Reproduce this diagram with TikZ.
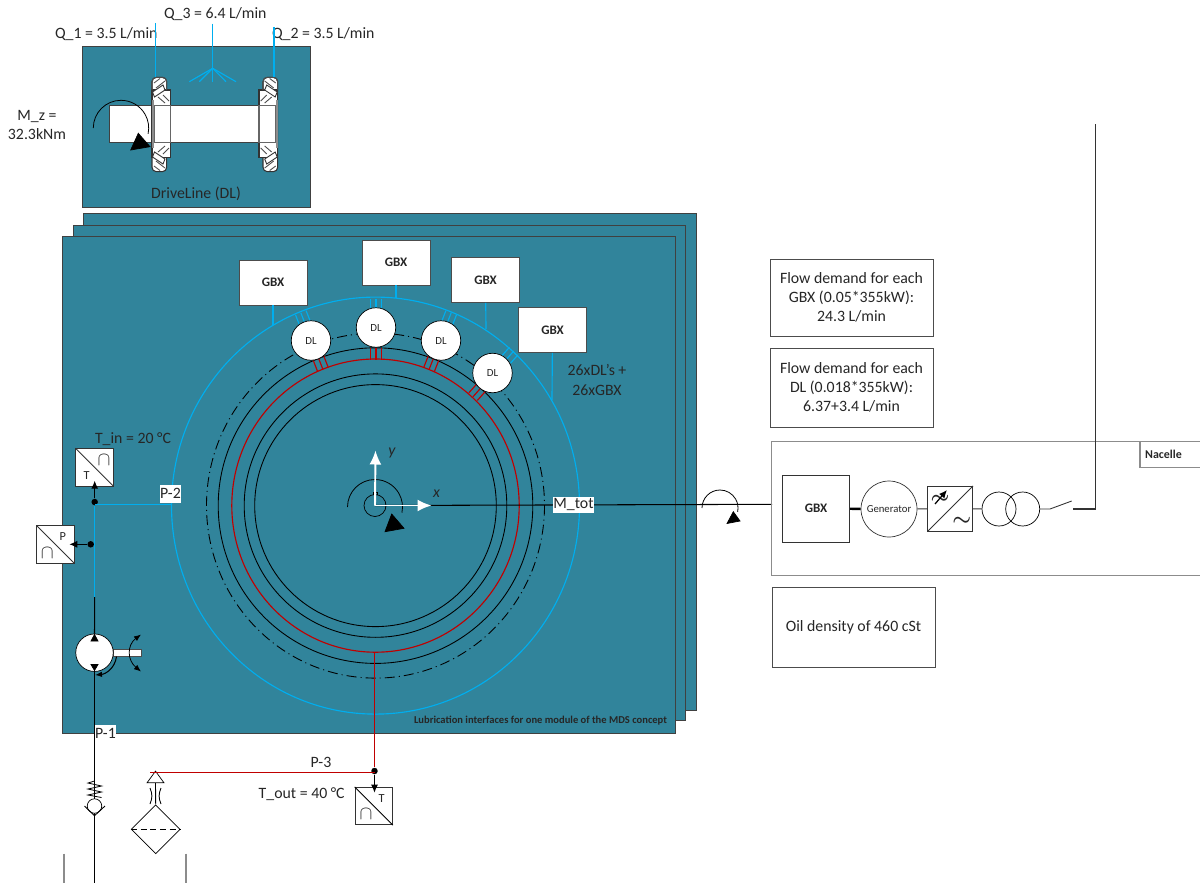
\documentclass[tikz,border=0pt]{standalone}
\usepackage{fontspec}
\setmainfont{Carlito}
\usepackage{amsmath}
\usetikzlibrary{arrows.meta,calc,shapes.geometric}
\definecolor{panelteal}{HTML}{31849B}
\definecolor{oilblue}{HTML}{00AEEF}
\definecolor{oilred}{HTML}{C00000}
\definecolor{edgegrey}{HTML}{8C8C8C}
\begin{document}
\begin{tikzpicture}[x=0.02cm,y=-0.02cm,
  every node/.style={font=\fontsize{9}{10.9}\selectfont, text=black!85},
  panel/.style={draw=black!75, line width=0.55pt, fill=panelteal},
  gbxbox/.style={draw=black!70, fill=white, minimum width=1.36cm, minimum height=0.9cm, inner sep=0pt, font=\fontsize{7.4}{8}\selectfont\bfseries},
  dlnode/.style={draw=black, circle, fill=white, minimum size=0.79cm, inner sep=0pt, font=\fontsize{6.2}{7}\selectfont},
  notebox/.style={draw=black!70, fill=white, align=center, inner sep=0pt},
  sensorbox/.style={draw=black!80, fill=white, minimum size=0.75cm, inner sep=0pt},
  tagbox/.style={fill=white, inner sep=1pt},
  smalltext/.style={font=\fontsize{7}{8}\selectfont, inner sep=0pt},
  dotnode/.style={circle, fill=black, minimum size=0.13cm, inner sep=0pt},
  blueline/.style={draw=oilblue, line width=0.65pt},
  redline/.style={draw=oilred, line width=0.65pt},
  ringline/.style={draw=black, line width=0.5pt},
  arrow/.style={-{Latex[length=1.6mm,width=1.4mm]}, line width=0.6pt},
  whitearrow/.style={-{Latex[length=2.8mm,width=2.4mm]}, draw=white, line width=1.1pt},
  momentarc/.style={draw=black, line width=0.45pt}
]
\useasboundingbox (0,0) rectangle (1200,883);

% panels
\draw[panel] (82,46) rectangle (310,207);
\draw[panel] (83,213) rectangle (696,710);
\draw[panel] (73,225) rectangle (685,720);
\draw[panel] (62,236) rectangle (675,733);

% rings
\coordinate (hub) at (375.5,505.6);
\draw[blueline] (hub) ellipse [x radius=204, y radius=208.5];
\draw[ringline, dash pattern=on 5.7pt off 2.3pt on 0.6pt off 2.3pt] (hub) ellipse [x radius=169, y radius=172.5];
\draw[ringline] (hub) ellipse [x radius=157.3, y radius=157.8];
\draw[redline] (hub) ellipse [x radius=143.7, y radius=146.6];
\draw[ringline] (hub) ellipse [x radius=131.3, y radius=131.7];
\draw[ringline] (hub) ellipse [x radius=120.8, y radius=121];
\foreach \ang in {21.3,0,-21.3,-41.7} {
  \begin{scope}[shift={(376,505.6)}, rotate=\ang]
    \foreach \off in {-5.7,0,5.7} {
      \draw[redline] (\off,-146) -- (\off,-158);
      \draw[blueline] (\off,-196) -- (\off,-207);
    }
  \end{scope}
}

% gearboxes and drivelines
\coordinate (ringA) at (273,325);
\coordinate (ringB) at (396,298);
\coordinate (ringC) at (486,329);
\coordinate (ringD) at (552,400);
\node[gbxbox] (gbxA) at (273,282.5) {GBX};
\node[gbxbox] (gbxB) at (396,262.5) {GBX};
\node[gbxbox] (gbxC) at (485.5,280) {GBX};
\node[gbxbox] (gbxD) at (552.5,330) {GBX};
\draw[blueline] (gbxA) -- (ringA);
\draw[blueline] (gbxB) -- (ringB);
\draw[blueline] (gbxC) -- (ringC);
\draw[blueline] (gbxD) -- (ringD);
\node[dlnode] (dlA) at (311,340.5) {DL};
\node[dlnode] (dlB) at (376,327.5) {DL};
\node[dlnode] (dlC) at (441,340.5) {DL};
\node[dlnode] (dlD) at (492.5,373) {DL};
\node[align=center] (countNote) at (597,380) {26xDL’s +\\26xGBX};

% hub and torque
\coordinate (gridIn) at (772,504.3);
\coordinate (axisY) at (375.5,450.5);
\coordinate (axisX) at (431.5,505.5);
\node[draw=black, circle, minimum size=0.44cm, inner sep=0pt] (hubRing) at (375,505.5) {};
\draw[black, line width=0.5pt] (373,494.5) -- (373,492.5) -- (377.5,492.5) -- (377.5,494.5);
\draw[momentarc] (347.5,507) arc[start angle=180,end angle=372,radius=27.5];
\draw[fill=black] (391.7,514) -- (404,528.3) -- (385,531.7) -- cycle;
\draw[ringline, line width=0.6pt] (hubRing.center) -- (gridIn);
\draw[whitearrow] (hubRing.center) -- (axisY);
\draw[whitearrow] (hubRing.center) -- (axisX);
\node (labelY) at (392,453) {\itshape y};
\node (labelX) at (436.5,494) {\itshape x};
\node[tagbox, minimum width=0.72cm, minimum height=0.32cm, inner sep=0pt] (mTot) at (573.5,504.7) {M\_tot};
\draw[momentarc] (702,508) arc[start angle=180,end angle=372,radius=18];
\draw[fill=black] (733.3,511.7) -- (740,521) -- (727,523.5) -- cycle;

% driveline detail
\fill[white] (109.3,105.3) rectangle (260,142.7);
\draw[black!75, line width=0.6pt] (152,105.3) -- (109.3,105.3) -- (109.3,142.7) -- (152,142.7);
\draw[black!75, line width=0.6pt] (170,105.3) -- (260,105.3) (170,142.7) -- (260,142.7);
\foreach \mx/\sx in {0/1,429.7/-1} {
  \begin{scope}[shift={(\mx,0)}, xscale=\sx]
    \draw[black!80, fill=white, line width=0.6pt, rounded corners=2.5pt] (152,77.3) rectangle (166.7,171.7);
    \draw[black!80, fill=white, line width=0.6pt] (152,90) rectangle (170.7,157.3);
    \draw[black!60, fill=white, line width=0.6pt] (154,105.3) rectangle (170.7,142.7);
    \draw[edgegrey, line width=1.1pt] (153,100) -- (153,148);
    \draw[black!80, line width=0.5pt, fill=white] (152.5,92) -- (163,85) -- (165,90) -- (154.5,97) -- cycle;
    \draw[black!80, line width=0.5pt, fill=white] (152.5,157) -- (163,164) -- (165,159) -- (154.5,152) -- cycle;
    \draw[black!70, line width=0.5pt] (154,83) -- (160,78.5) (156,88) -- (165,81) (158,97) -- (165,103) (163,95) -- (169,101)
      (154,166) -- (160,170.5) (156,161) -- (165,168) (158,152) -- (165,146) (163,154) -- (169,148);
    \draw[black!70, rounded corners=2.5pt, line width=0.6pt] (152,90) -- (152,77.3) -- (166.7,77.3) -- (166.7,90);
  \end{scope}
}
\draw[momentarc] (93.3,128) arc[start angle=180,end angle=372,radius=27.7];
\draw[fill=black] (138.3,133.3) -- (150,146.7) -- (130.7,150) -- cycle;
\coordinate (brgA) at (155.2,77);
\coordinate (brgB) at (274,77);
\coordinate (inA) at (155.2,23);
\coordinate (inB) at (274,27);
\coordinate (inC) at (212.7,23.5);
\coordinate (sprayTop) at (212.7,68.3);
\node (flowA) at (106.3,33.6) {Q\_1 = 3.5 L/min};
\node (flowB) at (323.3,33.6) {Q\_2 = 3.5 L/min};
\node (flowC) at (215.3,14.5) {Q\_3 = 6.4 L/min};
\draw[blueline] (inA) -- (brgA);
\draw[blueline] (inB) -- (brgB);
\draw[blueline] (inC) -- (sprayTop);
\foreach \sx/\sy in {189.3/81.7,199.3/81.7,212.7/81.7,226/81.7,236/81.7} {
  \draw[blueline] (sprayTop) -- (\sx,\sy);
}
\node[align=center] (torqueNote) at (37,125.3) {M\_z =\\32.3kNm};
\node (dlCaption) at (196,193.8) {DriveLine (DL)};

% notes on the right
\node[notebox, minimum width=3.26cm, minimum height=1.54cm] (demandGbx) at (851.5,297.5) {Flow demand for each\\GBX (0.05*355kW):\\24.3 L/min};
\node[notebox, minimum width=3.26cm, minimum height=1.58cm] (demandDl) at (851.5,387.5) {Flow demand for each\\DL (0.018*355kW):\\6.37+3.4 L/min};
\node[notebox, minimum width=3.26cm, minimum height=1.6cm] (oilNote) at (853.5,627) {\raisebox{-1.5pt}{Oil density of 460 cSt}};

% nacelle
\draw[edgegrey, line width=0.6pt] (1200,441.7) -- (771.7,441.7) -- (771.7,575.3) -- (1200,575.3);
\draw[edgegrey, line width=0.6pt] (1200,467.3) -- (1140,467.3) -- (1140,441.7);
\node[font=\fontsize{6.8}{8}\selectfont\bfseries, inner sep=0pt] (nacelleTag) at (1163.5,454) {Nacelle};
\node[draw=black!80, minimum width=1.35cm, minimum height=1.35cm, inner sep=0pt, font=\fontsize{7.4}{8}\selectfont\bfseries] (gbxMain) at (816,508.7) {GBX};
\node[draw=black!80, circle, minimum size=1.12cm, inner sep=0pt, font=\fontsize{6.1}{7}\selectfont] (generator) at (889,509) {Generator};
\node[draw=black!80, minimum size=0.9cm, inner sep=0pt] (converter) at (950.2,508.7) {};
\node[draw=black, circle, minimum size=0.68cm, inner sep=0pt] (trafoA) at (999,509) {};
\node[draw=black, circle, minimum size=0.68cm, inner sep=0pt] (trafoB) at (1022.7,509) {};
\coordinate (swA) at (1050,509);
\coordinate (swB) at (1071.7,501);
\coordinate (swC) at (1073.3,509);
\coordinate (gridCorner) at (1095.7,509);
\coordinate (gridEnd) at (1095.7,124);
\draw[black, line width=1.3pt] (gbxMain) -- (generator);
\draw[black!80, line width=0.5pt] (generator) -- (converter);
\draw[black!80, line width=0.5pt] (converter) -- (trafoA);
\draw[black!80, line width=0.5pt] (trafoB) -- (swA) -- (swB);
\draw[black!80, line width=0.6pt] (swC) -- (gridCorner) -- (gridEnd);
\draw[black!80, line width=0.5pt] (converter.south west) -- (converter.north east);
\node[inner sep=0pt, font=\fontsize{13}{13}\selectfont] (tildeA) at (940,499.5) {$\boldsymbol{\sim}$};
\node[inner sep=0pt, font=\fontsize{13}{13}\selectfont] (tildeB) at (961.7,521.7) {$\boldsymbol{\sim}$};
\coordinate (tapA) at (935,504);
\coordinate (tapB) at (947,490);
\draw[arrow, line width=0.7pt] (tapA) -- (tapB);

% supply line
\node[sensorbox] (sensorTin) at (94.5,467.3) {};
\node[sensorbox] (sensorP) at (55.5,544.5) {};
\draw[black!80, line width=0.5pt] (sensorTin.north west) -- (sensorTin.south east);
\draw[black!80, line width=0.5pt] (sensorP.north west) -- (sensorP.south east);
\node[smalltext] (sensorTinA) at (86.7,476) {T};
\node[smalltext] (sensorPA) at (62.7,537) {P};
\node[smalltext, font=\fontsize{11}{11}\selectfont] (sensorTinB) at (104,460) {$\cap$};
\node[smalltext, font=\fontsize{11}{11}\selectfont] (sensorPB) at (47.3,552.7) {$\cap$};
\node[dotnode] (dotTin) at (94.7,502) {};
\node[dotnode] (dotP) at (90.7,544.3) {};
\coordinate (tipTin) at (94.7,480.7);
\coordinate (tipP) at (69.3,544.3);
\coordinate (supplyBend) at (94.7,504.3);
\coordinate (supplyEnd) at (94.7,597);
\coordinate (ringWest) at (171,504.3);
\draw[blueline] (dotTin) -- (supplyEnd);
\draw[blueline] (supplyBend) -- (ringWest);
\draw[arrow] (dotTin) -- (tipTin);
\draw[arrow] (dotP) -- (tipP);
\node[tagbox, inner sep=0pt, minimum width=0.42cm, minimum height=0.36cm] (tagTwo) at (170.5,493.5) {P-2};
\node (tinNote) at (133,438.7) {T\_in = 20 °C};

% pump
\coordinate (pumpTop) at (94.5,634);
\coordinate (pumpBase) at (94.5,883);
\fill[white] (113.3,649.3) rectangle (141.3,656.7);
\draw[black!70, line width=0.5pt] (113.3,649.3) rectangle (141.3,656.7);
\draw[ringline, line width=0.6pt] (supplyEnd) -- (pumpTop);
\node[draw=black, circle, fill=white, minimum size=0.75cm, inner sep=0pt] (pump) at (94.5,652.7) {};
\draw[fill=black] (94.5,634.5) -- (91,641) -- (98,641) -- cycle;
\draw[fill=black] (94.5,670.5) -- (91,664.5) -- (98,664.5) -- cycle;
\draw[ringline, line width=0.6pt] (pump.south) -- (pumpBase);
\draw[momentarc, {Latex[length=1.4mm,width=1.1mm]}-{Latex[length=1.4mm,width=1.1mm]}] (141,634.5) .. controls (127,645) and (127,660) .. (141,671.5);
\draw[momentarc, line width=0.6pt, -{Latex[length=1.4mm,width=1.1mm]}] (116.5,656.5) .. controls (115,668) and (106,674) .. (95,675);

% return and check valve
\node[tagbox, inner sep=0pt, minimum width=0.43cm, minimum height=0.32cm] (tagOne) at (105.5,733) {P-1};
\draw[black, line width=0.45pt] (94.5,781) -- (88,783) -- (101.5,786) -- (88,789) -- (101.5,792) -- (88,795) -- (101.5,797.5);
\node[draw=black, circle, fill=white, minimum size=0.29cm, inner sep=0pt] (checkBall) at (94.5,806) {};
\draw[black, line width=0.5pt] (84.5,806) -- (94.5,815.7) -- (105,806);
\coordinate (tankLeftTop) at (64,853.5);
\coordinate (tankLeftEnd) at (64,883);
\coordinate (tankRightTop) at (186,853.5);
\coordinate (tankRightEnd) at (186,883);
\draw[edgegrey, line width=0.7pt] (tankLeftTop) -- (tankLeftEnd);
\draw[edgegrey, line width=0.7pt] (tankRightTop) -- (tankRightEnd);

% filter and outlet
\node[draw=black, diamond, aspect=1, fill=white, minimum size=0.98cm, inner sep=0pt] (filter) at (155.7,829.3) {};
\draw[black, line width=0.5pt, dash pattern=on 3.5pt off 2pt] (filter.west) -- (filter.east);
\node[draw=black, isosceles triangle, isosceles triangle apex angle=72, shape border rotate=90, fill=white, minimum height=0.23cm, minimum width=0.34cm, inner sep=0pt] (vent) at (155.5,778.5) {};
\draw[black, line width=0.5pt] (vent.south) -- (filter.north);
\draw[black, line width=0.5pt] (150,788) .. controls (152.5,794) and (152.5,798) .. (150,804);
\draw[black, line width=0.5pt] (161,788) .. controls (158.5,794) and (158.5,798) .. (161,804);
\coordinate (ringSouth) at (374.5,652);
\coordinate (ventLine) at (150,772.7);
\node[dotnode] (dotOut) at (374.5,771) {};
\coordinate (outCorner) at (374.5,772.7);
\coordinate (tipOut) at (374.5,792.7);
\draw[redline] (ringSouth) -- (dotOut);
\draw[redline] (ventLine) -- (outCorner);
\node[sensorbox] (sensorOut) at (373.8,806) {};
\draw[black, line width=0.5pt] (sensorOut.north west) -- (sensorOut.south east);
\draw[arrow] (dotOut) -- (tipOut);
\node[smalltext] (sensorOutA) at (381.7,799) {T};
\node[smalltext, font=\fontsize{11}{11}\selectfont] (sensorOutB) at (366,814) {$\cap$};
\node (tagThree) at (321,762.3) {P-3};
\node (toutNote) at (301.7,794) {T\_out = 40 °C};
\node[font=\fontsize{6}{7}\selectfont\bfseries, inner sep=0pt] (moduleNote) at (540.5,720.5) {Lubrication interfaces for one module of the MDS concept};
\end{tikzpicture}
\end{document}
